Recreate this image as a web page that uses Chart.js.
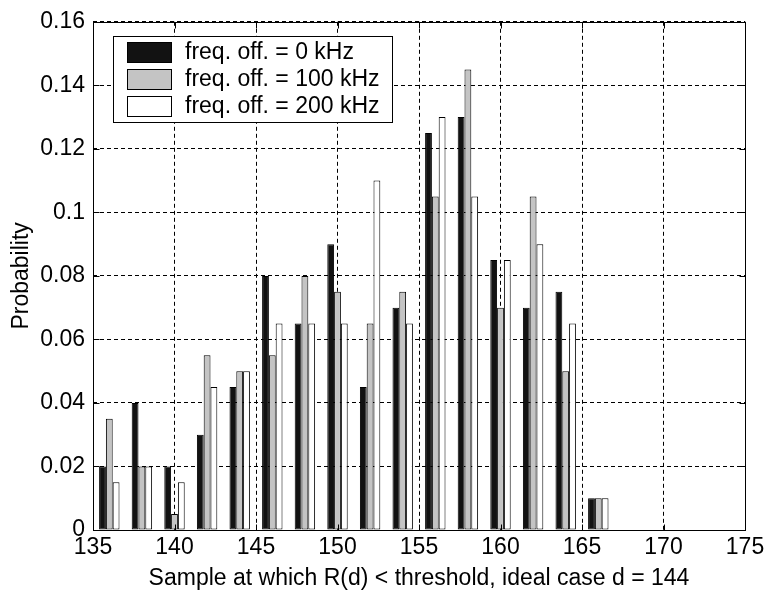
<!DOCTYPE html>
<html>
<head>
<meta charset="utf-8">
<title>Detection sample histogram</title>
<script src="https://cdn.jsdelivr.net/npm/chart.js@4.4.0/dist/chart.umd.min.js"></script>
<style>
  html, body { margin: 0; padding: 0; background: #fff; }
  #wrap { width: 769px; height: 596px; }
</style>
</head>
<body>
<div id="wrap"><canvas id="histChart" width="769" height="596"></canvas></div>
<script>
// sample index where R(d) first drops below threshold (bin centres)
const sampleIdx = [136, 138, 140, 142, 144, 146, 148, 150, 152, 154, 156, 158, 160, 162, 164, 166];

// probability per bin, one list per frequency offset
const probOff0   = [0.02, 0.04, 0.02, 0.03, 0.045, 0.08, 0.065, 0.09, 0.045, 0.07, 0.125, 0.13, 0.085, 0.07, 0.075, 0.01];
const probOff100 = [0.035, 0.02, 0.005, 0.055, 0.05, 0.055, 0.08, 0.075, 0.065, 0.075, 0.105, 0.145, 0.07, 0.105, 0.05, 0.01];
const probOff200 = [0.015, 0.02, 0.015, 0.045, 0.05, 0.065, 0.065, 0.065, 0.11, 0.065, 0.13, 0.105, 0.085, 0.09, 0.065, 0.01];

const seriesLabels = ['freq. off. = 0 kHz', 'freq. off. = 100 kHz', 'freq. off. = 200 kHz'];
const seriesFills = ['#121212', '#c4c4c4', '#ffffff'];

const xTicks = { min: 135, max: 175, step: 5 };
const yTicks = { min: 0, max: 0.16, step: 0.02 };

const FONT = 'Liberation Sans, Arial, sans-serif';
const FONT_SIZE = 23;

function toPoints(vals) {
    return vals.map((v, i) => ({ x: sampleIdx[i], y: v }));
}

// box around the axes, inward tick marks, and the legend inside the plot
const frameAndLegend = {
    id: 'frameAndLegend',
    afterDatasetsDraw(chart) {
        const { ctx, chartArea: a, scales: { x, y } } = chart;
        const L = Math.round(a.left) + 0.5, R = Math.round(a.right) + 0.5;
        const T = Math.round(a.top) + 0.5, B = Math.round(a.bottom) + 0.5;
        const tickLen = 6;

        ctx.save();
        ctx.strokeStyle = '#000';
        ctx.lineWidth = 1;
        ctx.setLineDash([]);
        ctx.beginPath();
        x.ticks.forEach(t => {
            const px = Math.round(x.getPixelForValue(t.value)) + 0.5;
            ctx.moveTo(px, B); ctx.lineTo(px, B - tickLen);
            ctx.moveTo(px, T); ctx.lineTo(px, T + tickLen);
        });
        y.ticks.forEach(t => {
            const py = Math.round(y.getPixelForValue(t.value)) + 0.5;
            ctx.moveTo(L, py); ctx.lineTo(L + tickLen, py);
            ctx.moveTo(R, py); ctx.lineTo(R - tickLen, py);
        });
        ctx.stroke();
        ctx.strokeRect(L, T, R - L, B - T);

        // legend
        const lx = 113.5, ly = 36.5, lw = 279, lh = 86;
        ctx.fillStyle = '#fff';
        ctx.fillRect(lx, ly, lw, lh);
        ctx.strokeRect(lx, ly, lw, lh);
        ctx.font = FONT_SIZE + 'px ' + FONT;
        ctx.textBaseline = 'middle';
        ctx.textAlign = 'left';
        chart.data.datasets.forEach((ds, i) => {
            const cy = 53 + i * 27;
            ctx.fillStyle = ds.backgroundColor;
            ctx.fillRect(127.5, cy - 10.5, 44, 20);
            ctx.strokeRect(127.5, cy - 10.5, 44, 20);
            ctx.fillStyle = '#000';
            ctx.fillText(ds.label, 185, cy);
        });
        ctx.restore();
    }
};

const datasets = [probOff0, probOff100, probOff200].map((vals, i) => ({
    label: seriesLabels[i],
    data: toPoints(vals),
    backgroundColor: seriesFills[i],
    borderColor: '#000',
    borderWidth: 1,
    borderSkipped: false,
    categoryPercentage: 0.626,
    barPercentage: 1.0
}));

new Chart(document.getElementById('histChart'), {
    type: 'bar',
    data: { datasets },
    options: {
        responsive: false,
        animation: false,
        layout: { padding: { top: 16, right: 24, left: 0, bottom: 0 } },
        plugins: {
            legend: { display: false },
            tooltip: { enabled: false }
        },
        scales: {
            x: {
                type: 'linear',
                min: xTicks.min,
                max: xTicks.max,
                offset: false,
                grid: { color: '#000', lineWidth: 1, drawTicks: false, offset: false },
                border: { display: false, dash: [4, 3] },
                ticks: {
                    stepSize: xTicks.step,
                    color: '#000',
                    padding: 4,
                    maxRotation: 0,
                    font: { family: FONT, size: FONT_SIZE }
                },
                title: {
                    display: true,
                    text: 'Sample at which R(d) < threshold, ideal case d = 144',
                    color: '#000',
                    font: { family: FONT, size: FONT_SIZE, lineHeight: 1.2 },
                    padding: { top: 0, bottom: 4 }
                },
                afterFit(scale) { scale.height = 66; }
            },
            y: {
                min: yTicks.min,
                max: yTicks.max,
                grid: { color: '#000', lineWidth: 1, drawTicks: false },
                border: { display: false, dash: [4, 3] },
                ticks: {
                    stepSize: yTicks.step,
                    color: '#000',
                    padding: 8,
                    font: { family: FONT, size: FONT_SIZE },
                    callback: v => String(Math.round(v * 100) / 100)
                },
                title: {
                    display: true,
                    text: 'Probability',
                    color: '#000',
                    font: { family: FONT, size: FONT_SIZE, lineHeight: 1.2 },
                    padding: { top: 8, bottom: 0 }
                },
                afterFit(scale) { scale.width = 93; }
            }
        }
    },
    plugins: [frameAndLegend]
});
</script>
</body>
</html>
